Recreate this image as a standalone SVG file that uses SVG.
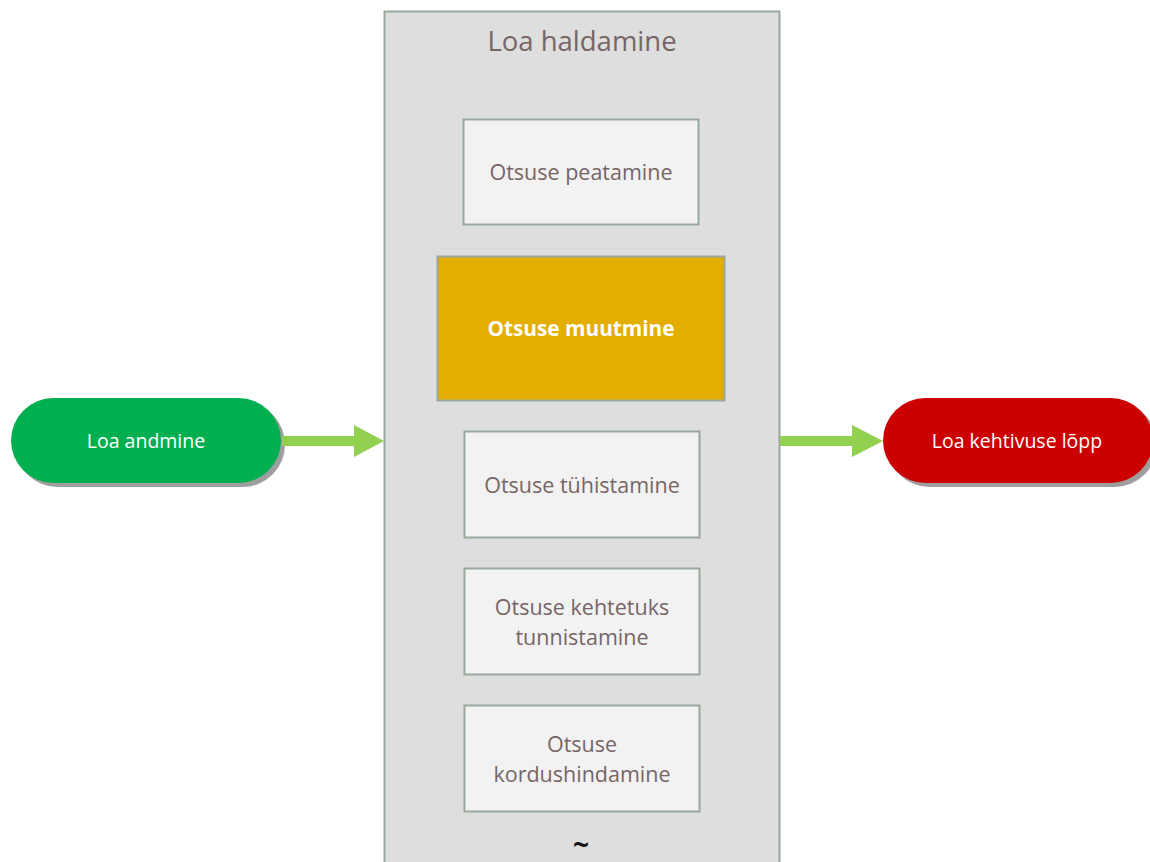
<svg xmlns="http://www.w3.org/2000/svg" width="1150" height="862" viewBox="0 0 1150 862">
<defs>
<style>
.box{fill:#f2f2f2;stroke:#9aa89c;stroke-width:2}
.t{font-family:"Open Sans","Noto Sans",sans-serif;fill:#776565;font-size:21.5px;text-anchor:middle}
.w{font-family:"Open Sans","Noto Sans",sans-serif;fill:#ffffff;font-size:19.5px;text-anchor:middle}
.arrow{fill:#92d050}
</style>
</defs>
<rect width="1150" height="862" fill="#ffffff"/>
<g id="container">
<rect x="384.5" y="11.5" width="395" height="870" fill="#dedede" stroke="#9aa89c" stroke-width="2"/>
<text x="582" y="51" class="t" style="font-size:27.5px">Loa haldamine</text>
</g>
<g id="n-peatamine">
<rect class="box" x="463.5" y="119.5" width="235" height="105"/>
<text class="t" x="581" y="180">Otsuse peatamine</text>
</g>
<g id="n-muutmine">
<rect x="437.5" y="256.5" width="287" height="144" fill="#e3ae00" stroke="#9aa89c" stroke-width="2"/>
<text class="w" x="581" y="336" style="font-weight:bold;font-size:20.8px">Otsuse muutmine</text>
</g>
<g id="n-tyhistamine">
<rect class="box" x="464.5" y="431.5" width="235" height="106"/>
<text class="t" x="582" y="493">Otsuse tühistamine</text>
</g>
<g id="n-kehtetuks">
<rect class="box" x="464.5" y="568.5" width="235" height="106"/>
<text class="t" x="582" y="615">Otsuse kehtetuks</text>
<text class="t" x="582" y="645">tunnistamine</text>
</g>
<g id="n-kordus">
<rect class="box" x="464.5" y="705.5" width="235" height="106"/>
<text class="t" x="582" y="752">Otsuse</text>
<text class="t" x="582" y="782">kordushindamine</text>
</g>
<text x="581" y="855" style="font-family:'Open Sans',sans-serif;font-size:28px;font-weight:bold;fill:#111" text-anchor="middle">~</text>
<g id="n-andmine">
<rect x="15" y="402" width="270" height="85" rx="42.5" fill="#9e9e9e"/>
<rect x="11" y="398" width="270" height="85" rx="42.5" fill="#00b050"/>
<text class="w" x="146" y="448">Loa andmine</text>
</g>
<g id="n-lopp">
<rect x="887" y="402" width="270" height="85" rx="42.5" fill="#9e9e9e"/>
<rect x="883" y="398" width="270" height="85" rx="42.5" fill="#cc0000"/>
<text class="w" x="1017" y="448">Loa kehtivuse lõpp</text>
</g>
<g id="connectors">
<polygon class="arrow" points="282,436 354,436 354,425 384,441 354,457 354,446 282,446"/>
<polygon class="arrow" points="780,436 852,436 852,425 883,441 852,457 852,446 780,446"/>
</g>
</svg>
